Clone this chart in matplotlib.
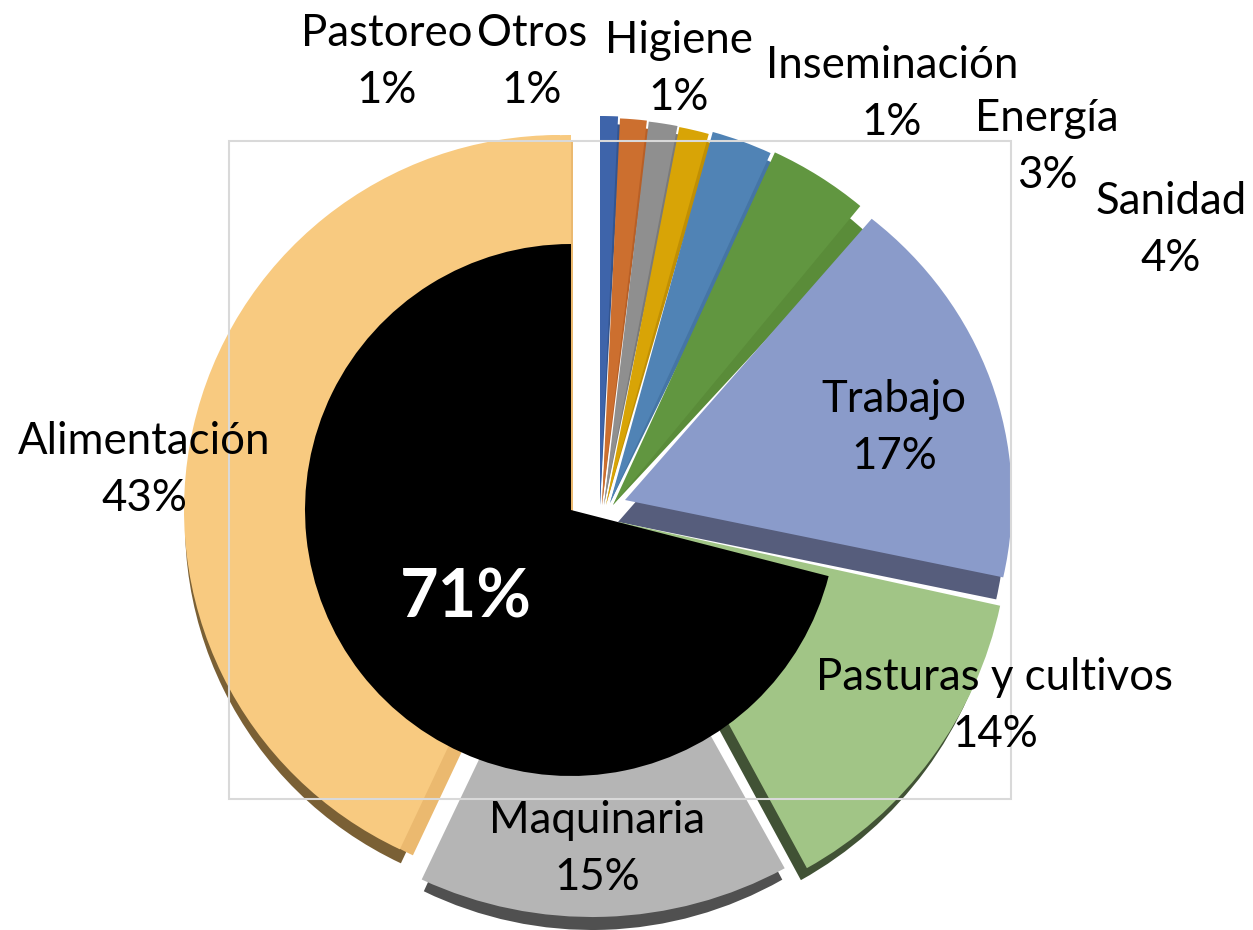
import matplotlib
matplotlib.use("Agg")
import matplotlib.pyplot as plt
from matplotlib.patches import Rectangle
from matplotlib.transforms import Affine2D

names = ["Pastoreo", "Otros", "Higiene", "Inseminación", "Energía", "Sanidad",
         "Trabajo", "Pasturas y cultivos", "Maquinaria", "Alimentación"]
values = [0.74, 1.11, 1.2, 1.25, 2.55, 4.15, 17.4, 13.6, 15, 43]
highlight_values = [71, 29]
highlight_label = "71%"

colors = ["#3e64aa", "#cc6f2f", "#8f8f8f", "#d8a406", "#5083b5", "#619640",
          "#8a9bca", "#a1c586", "#b5b5b5", "#f8ca80"]
side_colors = ["#34558f", "#b85f26", "#7a7a7a", "#c08f04", "#4575a5", "#5a8c39",
               "#565d7c", "#415235", "#505050", "#7a6035"]
bevel_colors = ["none"] * 9 + ["#ebb96f"]
patch_colors = ["none"] * 9 + ["#f8ca80"]

W, H = 1253, 930

# пиксели референса: вершина сектора и радиусы
apex = [(600, 505), (602, 505), (604, 505), (606, 505), (610, 503), (613, 505),
        (625, 500), (619, 522), (592, 523), (560, 510)]
radius = [(389, 389), (387, 387), (386, 386), (385, 385), (385, 385), (388, 388),
          (387, 365), (390, 395), (400, 394), (376, 375)]
# боковая грань: радиусы, смещение, поворот вокруг вершины
side_radius = [(381, 381), (379, 379), (378, 378), (377, 377), (377, 377), (372, 372),
               (387, 365), (390, 395), (395, 407), (376, 375)]
side_shift = [(0, 0), (0, 0), (0, 0), (0, 0), (0, 0), (0, 0),
              (-7, 22), (-6, 12), (0, 0), (1, 14)]
side_tilt = [0.5, 0.5, 0.7, 0.8, 1.5, 3.2, 0, 0, 0, 0]
bevel_shift = [(13, 6)] * len(values)
# светлая накладка закрывает верх фаски у сектора Alimentación
patch_radius = [(376, 359)] * len(values)
patch_shift = [(11, -16)] * len(values)
label_pos = [(387, 62), (532, 62), (679, 69), (892, 94), (1047, 147), (1171, 230),
             (894, 428), (995, 706), (597, 849), (144, 470)]


def draw_pie(ax, palette, radii, offsets, tilts, zorder):
    wedges, _ = ax.pie(values, colors=palette, startangle=90, counterclock=False)
    for i, wedge in enumerate(wedges):
        x = apex[i][0] + offsets[i][0]
        y = H - apex[i][1] - offsets[i][1]
        place = Affine2D().rotate_deg(-tilts[i]).scale(*radii[i]).translate(x, y)
        wedge.set_transform(place + ax.transData)
        wedge.set_zorder(zorder)


fig = plt.figure(figsize=(W / 100, H / 100), dpi=100)
ax = fig.add_axes([0, 0, 1, 1])
plt.rcParams['font.family'] = ['Lato', 'DejaVu Sans']

no_tilt = [0] * len(values)
no_shift = [(0, 0)] * len(values)
draw_pie(ax, side_colors, side_radius, side_shift, side_tilt, 1)
draw_pie(ax, bevel_colors, radius, bevel_shift, no_tilt, 1.5)
draw_pie(ax, colors, radius, no_shift, no_tilt, 2)
draw_pie(ax, patch_colors, patch_radius, patch_shift, no_tilt, 2.5)

ax.add_patch(Rectangle((229, H - 799), 782, 658, fill=False, edgecolor="#d9d9d9",
                       linewidth=1.5, zorder=3))

inner, _ = ax.pie(highlight_values, colors=["black", "none"], startangle=90)
for wedge in inner:
    wedge.set_transform(Affine2D().scale(266, 266).translate(571, H - 510) + ax.transData)
    wedge.set_zorder(4)

for name, value, pos in zip(names, values, label_pos):
    ax.text(pos[0], H - pos[1], f"{name}\n{round(value)}%", ha="center", va="center",
            fontsize=31.5, linespacing=1.47, color="black", zorder=5)
ax.text(466, H - 598, highlight_label, ha="center", va="center", fontsize=48,
        fontweight="bold", color="white", zorder=5)

ax.set_xlim(0, W)
ax.set_ylim(0, H)
ax.set_aspect("auto")
ax.axis("off")

fig.savefig("out.png", dpi=100)
